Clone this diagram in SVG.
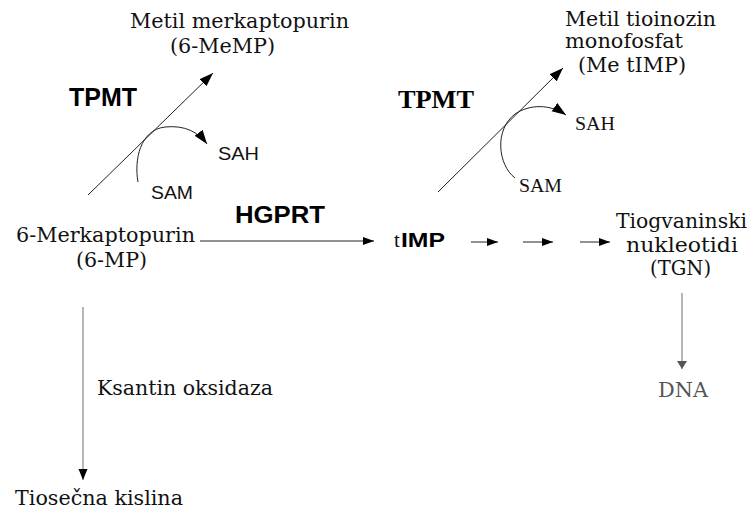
<svg xmlns="http://www.w3.org/2000/svg" width="750" height="510" viewBox="0 0 750 510">
<defs>
<style>
.serif{font-family:"DejaVu Serif",serif;font-size:20px;fill:#111}
.tserif{font-family:"Liberation Serif",serif;font-size:18px;fill:#111}
.sans{font-family:"Liberation Sans",Arial,sans-serif;font-size:18px;fill:#111}
.bsans{font-family:"Liberation Sans",Arial,sans-serif;font-weight:bold;fill:#000}
.bserif{font-family:"Liberation Serif",serif;font-weight:bold;fill:#000}
.ln{stroke:#222;stroke-width:1;fill:none}
.gl{stroke:#888;stroke-width:1.2;fill:none}
</style>
<marker id="ah" markerUnits="userSpaceOnUse" markerWidth="15" markerHeight="11" refX="14" refY="5" orient="auto"><path d="M0,0 L14,5 L0,10 z" fill="#000"/></marker>
<marker id="as" markerUnits="userSpaceOnUse" markerWidth="12" markerHeight="9" refX="11" refY="4" orient="auto"><path d="M0,0 L11,4 L0,8 z" fill="#000"/></marker>
<marker id="av" markerUnits="userSpaceOnUse" markerWidth="12" markerHeight="10" refX="11" refY="4.5" orient="auto"><path d="M0,0 L11,4.5 L0,9 z" fill="#000"/></marker>
<marker id="ag" markerUnits="userSpaceOnUse" markerWidth="9" markerHeight="11" refX="8" refY="5" orient="auto"><path d="M0,0 L8,5 L0,10 z" fill="#555"/></marker>
</defs>
<g id="connectors">
<line class="ln" x1="88" y1="195" x2="213" y2="73" marker-end="url(#ah)"/>
<path class="ln" d="M138,182 C134,160 140,130 165,127 C185,125 198,132 207,144" marker-end="url(#ah)"/>
<line class="ln" x1="438" y1="192" x2="563" y2="68" marker-end="url(#ah)"/>
<path class="ln" d="M515,178 C498,165 494,130 515,114 C530,104 550,104 566,115" marker-end="url(#ah)"/>
<line class="ln" x1="200" y1="241" x2="374" y2="241" marker-end="url(#as)"/>
<line class="ln" x1="471" y1="242" x2="498" y2="242" marker-end="url(#as)"/>
<line class="ln" x1="523" y1="242" x2="553" y2="242" marker-end="url(#as)"/>
<line class="ln" x1="580" y1="242" x2="610" y2="242" marker-end="url(#as)"/>
<line class="gl" x1="83" y1="307" x2="83" y2="480" marker-end="url(#av)"/>
<line class="gl" x1="682" y1="293" x2="682" y2="369" marker-end="url(#ag)"/>
</g>
<g id="n-6memp">
<text class="serif" x="130" y="28" textLength="219" lengthAdjust="spacingAndGlyphs">Metil merkaptopurin</text>
<text class="serif" x="170" y="53" textLength="105" lengthAdjust="spacingAndGlyphs">(6-MeMP)</text>
</g>
<g id="n-tpmt1"><text class="bsans" style="font-size:25px" x="69" y="106" textLength="68" lengthAdjust="spacingAndGlyphs">TPMT</text></g>
<g id="n-sah1"><text class="sans" x="218" y="160" textLength="41" lengthAdjust="spacingAndGlyphs">SAH</text></g>
<g id="n-sam1"><text class="sans" x="151" y="199" textLength="42" lengthAdjust="spacingAndGlyphs">SAM</text></g>
<g id="n-hgprt"><text class="bsans" style="font-size:23px" x="235" y="223" textLength="90" lengthAdjust="spacingAndGlyphs">HGPRT</text></g>
<g id="n-6mp">
<text class="serif" x="16" y="242" textLength="179" lengthAdjust="spacingAndGlyphs">6-Merkaptopurin</text>
<text class="serif" x="76" y="267" textLength="71" lengthAdjust="spacingAndGlyphs">(6-MP)</text>
</g>
<g id="n-xo"><text class="serif" x="97" y="395" textLength="176" lengthAdjust="spacingAndGlyphs">Ksantin oksidaza</text></g>
<g id="n-tio"><text class="serif" x="15" y="505" textLength="168" lengthAdjust="spacingAndGlyphs">Tiosečna kislina</text></g>
<g id="n-metimp">
<text class="serif" x="565" y="26" textLength="151" lengthAdjust="spacingAndGlyphs">Metil tioinozin</text>
<text class="serif" x="565" y="48" textLength="118" lengthAdjust="spacingAndGlyphs">monofosfat</text>
<text class="serif" x="578" y="72" textLength="108" lengthAdjust="spacingAndGlyphs">(Me tIMP)</text>
</g>
<g id="n-tpmt2"><text class="bserif" style="font-size:25px" x="398" y="108" textLength="76" lengthAdjust="spacingAndGlyphs">TPMT</text></g>
<g id="n-sah2"><text class="tserif" x="575" y="130" textLength="40" lengthAdjust="spacingAndGlyphs">SAH</text></g>
<g id="n-sam2"><text class="tserif" x="519" y="192" textLength="43" lengthAdjust="spacingAndGlyphs">SAM</text></g>
<g id="n-timp">
<text class="tserif" style="font-size:21px" x="394" y="247">t</text>
<text class="bsans" style="font-size:21px" x="401" y="247" textLength="44" lengthAdjust="spacingAndGlyphs">IMP</text>
</g>
<g id="n-tgn">
<text class="serif" x="616" y="228" textLength="131" lengthAdjust="spacingAndGlyphs">Tiogvaninski</text>
<text class="serif" x="626" y="252" textLength="112" lengthAdjust="spacingAndGlyphs">nukleotidi</text>
<text class="serif" x="650" y="275" textLength="61" lengthAdjust="spacingAndGlyphs">(TGN)</text>
</g>
<g id="n-dna"><text class="serif" x="658" y="397" textLength="50" lengthAdjust="spacingAndGlyphs" style="fill:#555">DNA</text></g>
</svg>
